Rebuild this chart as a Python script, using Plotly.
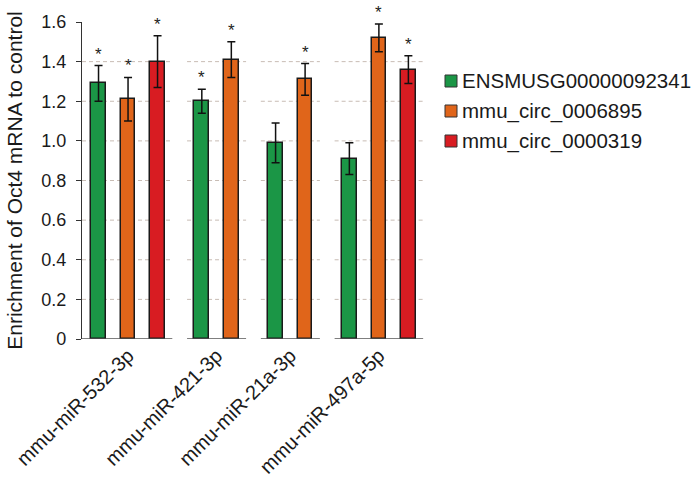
import plotly.graph_objects as go

# miRNA pull-down targets (x categories)
categories = ["mmu-miR-532-3p", "mmu-miR-421-3p", "mmu-miR-21a-3p", "mmu-miR-497a-5p"]

# Series (None = not measured for that miRNA)
series_names = ["ENSMUSG00000092341", "mmu_circ_0006895", "mmu_circ_0000319"]
ensmusg_vals = [1.29, 1.20, 0.99, 0.91]
ensmusg_err = [0.09, 0.06, 0.10, 0.08]
ensmusg_sig = [True, True, False, False]

circ6895_vals = [1.21, 1.41, 1.31, 1.52]
circ6895_err = [0.11, 0.09, 0.08, 0.07]
circ6895_sig = [True, True, True, True]

circ319_vals = [1.40, None, None, 1.36]
circ319_err = [0.13, None, None, 0.07]
circ319_sig = [True, False, False, True]

y_ticks = [0, 0.2, 0.4, 0.6, 0.8, 1.0, 1.2, 1.4, 1.6]
y_ticktext = ["0", "0.2", "0.4", "0.6", "0.8", "1.0", "1.2", "1.4", "1.6"]

colors = ["#1b9646", "#e0651a", "#d81c22"]
FONT = "Liberation Sans, Arial, sans-serif"

all_vals = [ensmusg_vals, circ6895_vals, circ319_vals]
all_errs = [ensmusg_err, circ6895_err, circ319_err]
all_sig = [ensmusg_sig, circ6895_sig, circ319_sig]

# Lay bars out group by group: unit spacing inside a group, wider gap between groups
GAP = 1.5
BAR_W = 0.5
positions = [[None] * len(categories) for _ in series_names]
group_spans = []
group_centers = []
cursor = 0.0
for g in range(len(categories)):
    present = [s for s in range(len(series_names)) if all_vals[s][g] is not None]
    xs = []
    for k, s in enumerate(present):
        positions[s][g] = cursor + k
        xs.append(cursor + k)
    group_spans.append((xs[0] - 0.5, xs[-1] + 0.5))
    group_centers.append((xs[0] + xs[-1]) / 2)
    cursor = xs[-1] + GAP

X_START = -0.56
X_END = 11.3

fig = go.Figure()
annotations = []
for s, name in enumerate(series_names):
    xs, ys, es = [], [], []
    for g in range(len(categories)):
        if all_vals[s][g] is None:
            continue
        xs.append(positions[s][g])
        ys.append(all_vals[s][g])
        es.append(all_errs[s][g])
        if all_sig[s][g]:
            annotations.append(dict(
                x=positions[s][g], y=all_vals[s][g] + all_errs[s][g],
                xref="x", yref="y", text="*", showarrow=False,
                yanchor="bottom", font=dict(size=17, color="#222", family=FONT),
            ))
    fig.add_trace(go.Bar(
        x=xs, y=ys, name=name, width=BAR_W,
        marker=dict(color=colors[s], line=dict(color="#1a1a1a", width=1.5)),
        error_y=dict(type="data", array=es, visible=True,
                     thickness=1.5, width=4, color="#111111"),
        showlegend=False,
    ))

shapes = []
# dashed guide lines and baseline, drawn separately under each group
for g, (x0, x1) in enumerate(group_spans):
    left = X_START if g == 0 else x0
    for yv in y_ticks[1:-1]:
        shapes.append(dict(type="line", xref="x", yref="y", x0=left, x1=x1,
                           y0=yv, y1=yv, layer="below",
                           line=dict(color="#c8bcb4", width=1, dash="4px,3px")))
    shapes.append(dict(type="line", xref="x", yref="y", x0=left, x1=x1,
                       y0=0, y1=0, layer="above",
                       line=dict(color="#555555", width=1.5)))

# legend: coloured squares with labels to the right of the plot
PLOT_L, PLOT_R, PLOT_T, PLOT_B = 82, 432, 22, 339
def px_to_paper_x(px):
    return (px - PLOT_L) / (PLOT_R - PLOT_L)
def px_to_paper_y(py):
    return (PLOT_B - py) / (PLOT_B - PLOT_T)

for s, name in enumerate(series_names):
    cy = 81 + 30 * s
    shapes.append(dict(type="rect", xref="paper", yref="paper",
                       x0=px_to_paper_x(445), x1=px_to_paper_x(457),
                       y0=px_to_paper_y(cy + 6), y1=px_to_paper_y(cy - 6),
                       fillcolor=colors[s], line=dict(color="#333333", width=1)))
    annotations.append(dict(x=px_to_paper_x(460), y=px_to_paper_y(cy),
                            xref="paper", yref="paper", text=name, showarrow=False,
                            xanchor="left", yanchor="middle",
                            font=dict(size=20.5, color="#1a1a1a", family=FONT)))

fig.update_layout(
    width=700, height=486,
    margin=dict(l=PLOT_L, r=700 - PLOT_R, t=PLOT_T, b=486 - PLOT_B, pad=0,
                autoexpand=False),
    paper_bgcolor="white", plot_bgcolor="white",
    font=dict(family=FONT, color="#1a1a1a"),
    bargap=0,
    shapes=shapes,
    annotations=annotations,
    xaxis=dict(
        range=[X_START, X_END], tickvals=group_centers, ticktext=categories,
        tickangle=-45, showgrid=False, zeroline=False, showline=False, ticks="",
        automargin=False,
        tickfont=dict(size=20, family=FONT, color="#1a1a1a"),
    ),
    yaxis=dict(
        range=[0, 1.6], tickvals=y_ticks, ticktext=y_ticktext,
        showgrid=False, zeroline=False, showline=True,
        linecolor="#333333", linewidth=1.3,
        ticks="outside", ticklen=5, tickcolor="#333333", tickwidth=1.3,
        ticklabelstandoff=6, automargin=False,
        tickfont=dict(size=18, family=FONT, color="#1a1a1a"),
        title=dict(text="Enrichment of Oct4 mRNA to control",
                   font=dict(size=21, family=FONT, color="#1a1a1a"), standoff=12),
    ),
)

fig.write_html("out.html")
